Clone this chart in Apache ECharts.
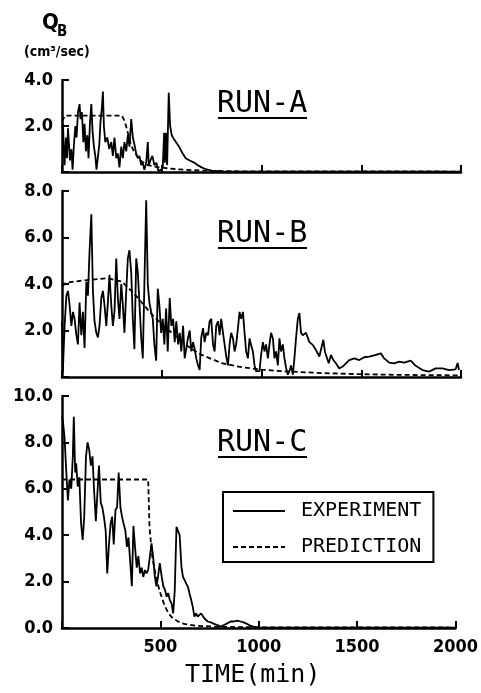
<!DOCTYPE html>
<html>
<head>
<meta charset="UTF-8">
<title>QB RUN-A / RUN-B / RUN-C</title>
<script src="https://cdn.jsdelivr.net/npm/echarts@6/dist/echarts.min.js"></script>
<style>
  html, body { margin: 0; padding: 0; background: #fff; }
  #chart { width: 481px; height: 693px; }
</style>
</head>
<body>
<div id="chart"></div>
<script>
// [time (min), QB (cm3/sec)]
var expA = [[0,1.9],[5,2.1],[10,0.8],[13,0.3],[20,1.5],[25,0.6],[30,1.9],[35,1.2],[40,0.5],[47,1.0],
  [53,0.1],[60,1.2],[67,2.0],[73,1.5],[80,2.6],[88,2.95],[93,2.3],[100,2.6],[107,1.3],[113,2.1],
  [120,0.9],[127,1.6],[133,0.6],[140,2.1],[147,2.95],[153,1.8],[160,1.1],[167,0.7],[173,0.1],[180,0.1],
  [187,1.2],[193,2.2],[200,2.8],[205,3.5],[210,2.0],[217,1.3],[227,1.5],[237,1.0],[247,1.3],[255,0.7],
  [263,1.5],[272,0.6],[280,0.8],[288,0.2],[297,1.1],[305,0.6],[313,1.3],[322,0.9],[330,1.6],[338,1.1],
  [347,2.3],[355,1.5],[363,1.2],[372,0.8],[380,0.6],[388,0.7],[397,0.3],[405,0.4],[413,0.1],[422,0.4],
  [430,1.3],[435,0.3],[443,0.5],[453,0.7],[463,0.3],[473,0.4],[483,0.05],[497,0.1],[505,0.2],[512,1.7],
  [516,0.4],[521,1.7],[527,0.3],[535,3.45],[542,2.0],[550,1.6],[560,1.45],[575,1.25],[590,1.05],[605,0.8],
  [620,0.6],[640,0.5],[660,0.42],[680,0.3],[700,0.2],[720,0.12],[750,0.06],[800,0.03],[1000,0.02],[1500,0.02],[2000,0.02]];
var preA = [[0,2.2],[15,2.45],[300,2.45],[315,2.2],[330,1.7],[345,1.2],[360,0.9],[380,0.65],[400,0.45],
  [430,0.3],[470,0.22],[520,0.17],[580,0.12],[650,0.08],[750,0.05],[900,0.03],[2000,0.02]];

var expB = [[0,2.4],[4,0.2],[13,2.2],[22,3.5],[30,3.7],[38,3.1],[47,2.2],[55,2.8],[63,2.5],[72,1.8],
  [80,1.4],[88,3.2],[97,1.8],[105,2.8],[113,1.25],[122,4.1],[130,3.5],[138,5.4],[147,7.0],[155,3.7],
  [163,2.4],[172,1.9],[180,1.7],[188,2.2],[197,3.4],[205,3.7],[213,3.1],[222,2.2],[230,3.2],[238,4.4],
  [247,3.1],[255,2.2],[263,2.8],[272,5.1],[280,3.4],[288,2.5],[297,4.0],[305,3.1],[313,1.9],[322,3.7],
  [330,5.1],[338,5.45],[347,4.5],[355,2.5],[363,1.2],[372,5.1],[380,4.5],[388,3.2],[397,1.7],[405,0.8],
  [413,4.0],[422,7.6],[430,4.0],[438,3.2],[447,2.8],[455,2.5],[463,1.4],[472,0.7],[480,3.8],[488,3.1],
  [497,1.9],[505,2.5],[513,1.4],[522,2.95],[530,1.1],[540,3.4],[548,2.2],[557,2.5],[565,1.5],[573,2.4],
  [582,1.4],[590,1.9],[598,1.1],[607,2.2],[615,0.8],[632,1.7],[640,2.0],[648,1.1],[657,1.5],[665,1.2],
  [673,0.8],[682,0.5],[690,0.3],[698,1.7],[707,2.1],[715,1.5],[723,1.9],[732,1.8],[740,2.4],[748,2.5],
  [757,1.4],[765,1.1],[773,2.2],[782,2.4],[790,1.8],[798,2.5],[807,1.9],[815,1.4],[823,0.9],[832,0.5],
  [840,1.4],[848,1.9],[857,1.66],[865,1.1],[873,1.4],[882,2.1],[890,2.8],[898,2.5],[907,2.8],[915,1.9],
  [923,1.1],[932,0.8],[940,1.66],[948,1.37],[957,1.1],[965,0.5],[973,0.25],[990,0.25],[998,0.95],[1007,1.5],
  [1015,1.1],[1023,1.4],[1032,0.8],[1040,1.4],[1048,1.9],[1057,1.66],[1065,0.8],[1073,1.1],[1082,0.5],[1090,1.66],
  [1098,1.1],[1107,1.4],[1115,0.8],[1123,0.4],[1132,0.1],[1140,0.25],[1148,0.5],[1157,0.1],[1165,0.8],[1173,1.66],
  [1182,2.5],[1190,2.75],[1198,1.9],[1207,1.8],[1223,1.9],[1240,1.5],[1257,1.38],[1273,1.16],[1290,0.88],[1310,1.6],
  [1318,1.09],[1327,1.16],[1337,0.59],[1348,0.95],[1360,0.73],[1373,0.59],[1390,0.37],[1407,0.45],[1423,0.59],[1440,0.73],
  [1465,0.8],[1490,0.73],[1515,0.85],[1540,0.88],[1573,0.95],[1598,1.02],[1615,0.8],[1640,0.62],[1665,0.59],[1690,0.66],
  [1715,0.62],[1748,0.7],[1773,0.48],[1807,0.3],[1840,0.23],[1873,0.37],[1907,0.37],[1940,0.3],[1973,0.33],[1983,0.6],[1990,0.3]];
var preB = [[0,3.9],[20,4.05],[100,4.15],[230,4.25],[300,4.1],[360,3.6],[410,3.1],[460,2.6],[530,2.05],
  [600,1.55],[650,1.2],[700,0.95],[800,0.6],[900,0.42],[1000,0.32],[1100,0.25],[1300,0.17],[1500,0.12],[1700,0.09],[2000,0.07]];

var expC = [[0,9.1],[5,8.9],[13,8.2],[22,6.7],[30,5.5],[38,6.4],[47,6.0],[55,7.4],[60,9.1],[67,6.7],
  [72,7.1],[80,6.1],[88,6.5],[97,4.5],[105,3.8],[113,4.8],[122,7.4],[130,8.0],[138,7.7],[147,7.0],
  [155,7.4],[163,5.95],[172,4.6],[180,5.8],[188,7.0],[197,5.4],[205,5.2],[213,4.8],[222,4.2],[230,2.35],
  [238,3.5],[247,4.5],[255,4.8],[263,3.6],[272,5.1],[280,5.2],[288,6.7],[297,5.2],[305,4.8],[313,4.5],
  [322,4.2],[330,3.5],[338,3.9],[347,2.8],[355,1.8],[363,4.4],[372,3.4],[380,2.6],[388,3.1],[397,2.35],
  [405,2.6],[413,2.2],[422,2.5],[430,2.35],[438,2.5],[447,3.1],[455,3.65],[463,3.1],[472,2.2],[480,1.8],
  [488,2.2],[497,2.8],[507,2.2],[515,1.8],[523,1.66],[532,1.35],[540,1.5],[548,1.2],[557,1.06],[565,0.63],
  [573,1.6],[582,4.36],[590,4.4],[598,4.0],[607,2.65],[615,2.2],[623,2.07],[632,1.9],[640,1.78],[648,1.5],
  [657,1.2],[665,0.9],[673,0.49],[682,0.63],[690,0.49],[707,0.63],[723,0.42],[740,0.28],[757,0.24],[773,0.18],
  [790,0.13],[807,0.06],[823,0.13],[840,0.2],[857,0.28],[873,0.28],[890,0.32],[907,0.28],[923,0.24],[940,0.18],
  [957,0.1],[973,0.06],[1000,0.03],[1500,0.02],[2000,0.02]];
var preC = [[0,6.4],[438,6.4],[445,4.3],[460,3.0],[480,2.1],[500,1.5],[520,1.0],[540,0.65],[560,0.45],
  [590,0.28],[620,0.18],[680,0.1],[800,0.05],[1000,0.03],[2000,0.02]];

var xTickLabels = ['500', '1000', '1500', '2000'];
var yTickLabels = [['2.0', '4.0'], ['2.0', '4.0', '6.0', '8.0'], ['0.0', '2.0', '4.0', '6.0', '8.0', '10.0']];
var yMax = [4, 8, 10];
var runNames = ['RUN-A', 'RUN-B', 'RUN-C'];

var numFont = 'DejaVu Sans Condensed';
var monoFont = 'DejaVu Sans Mono';

var grids = [
  { left: 62, right: 20, top: 80, height: 92 },
  { left: 62, right: 20, top: 191, height: 186 },
  { left: 62, right: 20, top: 396, height: 232 }
];

var xAxes = grids.map(function (g, i) {
  return {
    type: 'value', gridIndex: i, min: 0, max: 2000, interval: 500,
    axisLine: { show: true, lineStyle: { color: '#000', width: 2.5 } },
    axisTick: { show: true, inside: true, length: 7, lineStyle: { color: '#000', width: 2 } },
    splitLine: { show: false },
    axisLabel: {
      show: i === 2, margin: 10, color: '#000', fontFamily: numFont, fontWeight: 'bold', fontSize: 18,
      formatter: function (v) { return xTickLabels.indexOf(String(v)) >= 0 ? String(v) : ''; }
    },
    name: i === 2 ? 'TIME(min)' : '',
    nameLocation: 'middle', nameGap: 35,
    nameTextStyle: { color: '#000', fontFamily: monoFont, fontSize: 25, padding: [0, 12, 0, 0] }
  };
});

var yAxes = grids.map(function (g, i) {
  return {
    type: 'value', gridIndex: i, min: 0, max: yMax[i], interval: 2,
    axisLine: { show: true, lineStyle: { color: '#000', width: 2.5 } },
    axisTick: { show: true, inside: true, length: 7, lineStyle: { color: '#000', width: 2 } },
    splitLine: { show: false },
    axisLabel: {
      margin: 9, color: '#000', fontFamily: numFont, fontWeight: 'bold', fontSize: 18,
      formatter: function (v) {
        var s = v.toFixed(1);
        return yTickLabels[i].indexOf(s) >= 0 ? s : '';
      }
    }
  };
});

function expSeries(data, i) {
  return { name: 'EXPERIMENT', type: 'line', xAxisIndex: i, yAxisIndex: i, data: data,
    symbol: 'none', lineStyle: { color: '#000', width: 1.8 }, itemStyle: { color: '#000' } };
}
function preSeries(data, i) {
  return { name: 'PREDICTION', type: 'line', xAxisIndex: i, yAxisIndex: i, data: data,
    symbol: 'none', lineStyle: { color: '#000', width: 1.8, type: [5, 3] }, itemStyle: { color: '#000' } };
}

var runY = [104, 234, 443];
var graphics = [
  { type: 'text', left: 42, top: 12, style: { text: 'Q', font: 'bold 22px "' + numFont + '"', fill: '#000' } },
  { type: 'text', left: 57, top: 25, style: { text: 'B', font: 'bold 15px "' + numFont + '"', fill: '#000' } },
  { type: 'text', left: 24, top: 45, style: { text: '(cm³/sec)', font: 'bold 14px "' + numFont + '"', fill: '#000' } }
];
runNames.forEach(function (r, i) {
  graphics.push({ type: 'text', x: 217, y: runY[i],
    style: { text: r, font: '30px "' + monoFont + '"', fill: '#000', textVerticalAlign: 'middle' } });
  graphics.push({ type: 'line', shape: { x1: 218, y1: runY[i] + 14, x2: 307, y2: runY[i] + 14 },
    style: { stroke: '#000', lineWidth: 2 } });
});

var chart = echarts.init(document.getElementById('chart'));
chart.setOption({
  animation: false,
  backgroundColor: '#fff',
  grid: grids,
  xAxis: xAxes,
  yAxis: yAxes,
  legend: {
    data: ['EXPERIMENT', 'PREDICTION'],
    orient: 'vertical', left: 223, top: 492,
    itemWidth: 52, itemHeight: 14, itemGap: 16,
    padding: [9, 12, 5, 9],
    borderColor: '#000', borderWidth: 2,
    itemStyle: { opacity: 0 },
    textStyle: { color: '#000', fontFamily: monoFont, fontSize: 20, lineHeight: 20, padding: [0, 0, 0, 11] }
  },
  graphic: graphics,
  series: [
    expSeries(expA, 0), preSeries(preA, 0),
    expSeries(expB, 1), preSeries(preB, 1),
    expSeries(expC, 2), preSeries(preC, 2)
  ]
});
</script>
</body>
</html>
